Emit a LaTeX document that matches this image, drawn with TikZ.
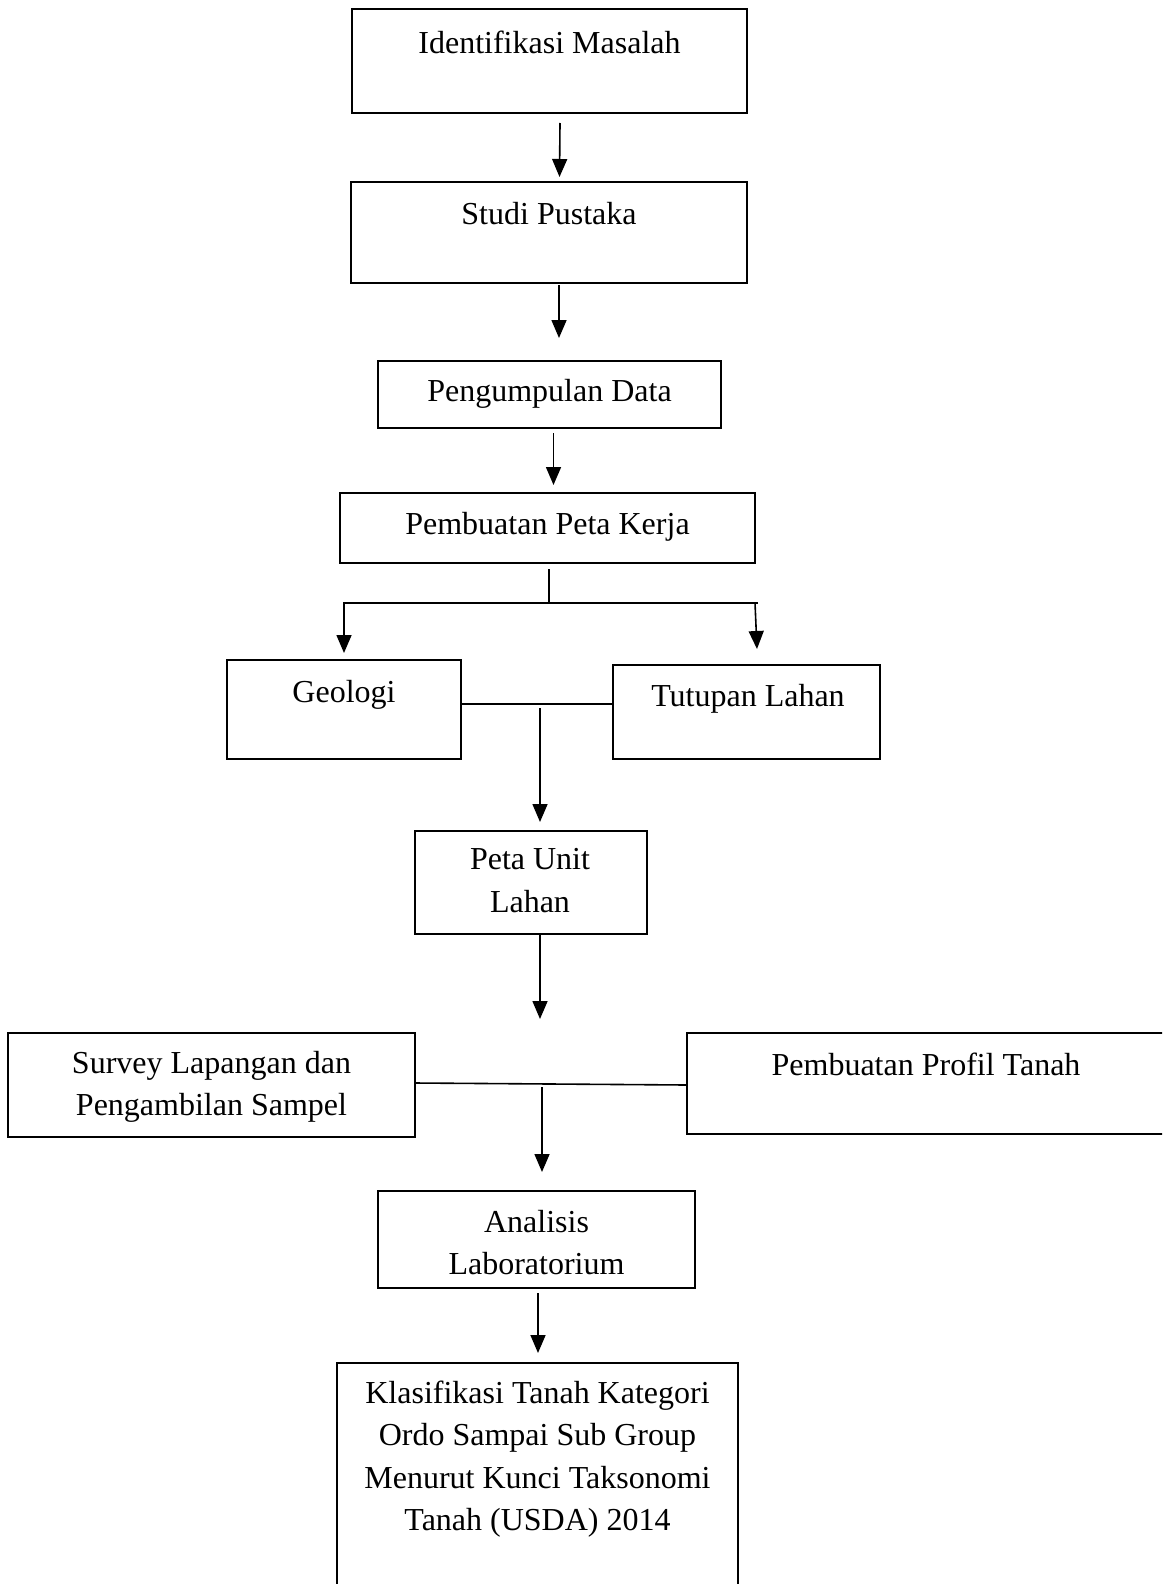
\documentclass[tikz,border=0pt]{standalone}
\usepackage{fontspec}
\setmainfont{Liberation Serif}
\usepackage{tikz}
\usetikzlibrary{arrows.meta}
\usetikzlibrary{positioning}

\tikzset{
    box/.style={draw, rectangle, line width=1.6pt, inner sep=0pt, outer sep=0pt},
    lbl/.style={font=\fontsize{32}{42.5}\selectfont, align=center, inner sep=0pt}
}

\begin{document}
\begin{tikzpicture}[x=1pt, y=-1pt, >={Triangle[width=15pt 0 0,length=18pt 0 0]}, line width=1.6pt]

    \path[use as bounding box, clip] (0,0) rectangle (1162,1584);

    % boxes
    \node[box, minimum width=395, minimum height=104] (ident) at (549.5,61) {};
    \node[box, minimum width=396, minimum height=101] (studi) at (549,232.5) {};
    \node[box, minimum width=343, minimum height=67] (kumpul) at (549.5,394.5) {};
    \node[box, minimum width=415, minimum height=70] (petakerja) at (547.5,528) {};
    \node[box, minimum width=234, minimum height=99] (geologi) at (344,709.5) {};
    \node[box, minimum width=267, minimum height=94] (tutupan) at (746.5,712) {};
    \node[box, minimum width=232, minimum height=103] (unit) at (531,882.5) {};
    \node[box, minimum width=407, minimum height=104] (survey) at (211.5,1085) {};
    \node[box, minimum width=478, minimum height=101] (profil) at (926,1083.5) {};
    \node[box, minimum width=317, minimum height=97] (analisis) at (536.5,1239.5) {};
    \node[box, minimum width=401, minimum height=257] (klas) at (537.5,1491.5) {};

    % texts
    \node[lbl, below=21pt of ident.north] (identT) {Identifikasi Masalah};
    \node[lbl, below=19pt of studi.north] (studiT) {Studi Pustaka};
    \node[lbl, below=17pt of kumpul.north] (kumpulT) {Pengumpulan Data};
    \node[lbl, below=18pt of petakerja.north] (petakerjaT) {Pembuatan Peta Kerja};
    \node[lbl, below=19pt of geologi.north] (geologiT) {Geologi};
    \node[lbl, below=18pt of tutupan.north, xshift=1.5pt] (tutupanT) {Tutupan Lahan};
    \node[lbl, below=17pt of unit.north, xshift=-1pt] (unitT) {Peta Unit\\Lahan};
    \node[lbl, below=17pt of survey.north] (surveyT) {Survey Lapangan dan\\Pengambilan Sampel};
    \node[lbl, below=19pt of profil.north] (profilT) {Pembuatan Profil Tanah};
    \node[lbl, below=18pt of analisis.north] (analisisT) {Analisis\\Laboratorium};
    \node[lbl, below=17pt of klas.north] (klasT) {Klasifikasi Tanah Kategori\\Ordo Sampai Sub Group\\Menurut Kunci Taksonomi\\Tanah (USDA) 2014};

    % junctions
    \coordinate (fork) at (549,603);
    \coordinate (forkL) at (344,603);
    \coordinate (forkR) at (758,603);
    \coordinate (merge) at (540,708);
    \coordinate (join) at (540,1019);
    \coordinate (split) at (542,1087);

    % connectors
    \draw[->] ([xshift=10.5pt,yshift=-10pt]ident.south) -- ([xshift=10.5pt,yshift=5pt]studi.north);
    \draw[->] ([xshift=10pt,yshift=-2pt]studi.south) -- ([xshift=9.5pt,yshift=23pt]kumpul.north);
    \draw[->] ([xshift=4pt,yshift=-5pt]kumpul.south) -- ([xshift=6pt,yshift=8pt]petakerja.north);

    \draw ([xshift=1.5pt,yshift=-6pt]petakerja.south) -- (fork);
    \draw[->] (forkR) -- (forkL) -- ([yshift=7pt]geologi.north);
    \draw[->] ([xshift=-3pt]forkR) -- ([xshift=10.5pt,yshift=16pt]tutupan.north);

    \draw ([yshift=5.5pt]geologi.east) -- ([yshift=8pt]tutupan.west);
    \draw[->] (merge) -- ([xshift=9pt,yshift=9pt]unit.north);
    \draw[->] ([xshift=9pt]unit.south) -- (join);

    \draw ([yshift=2pt]survey.east) -- ([yshift=-1.5pt]profil.west);
    \draw[->] (split) -- ([xshift=5.5pt,yshift=19pt]analisis.north);
    \draw[->] ([xshift=1.5pt,yshift=-5pt]analisis.south) -- ([xshift=0.5pt,yshift=10pt]klas.north);

\end{tikzpicture}
\end{document}
